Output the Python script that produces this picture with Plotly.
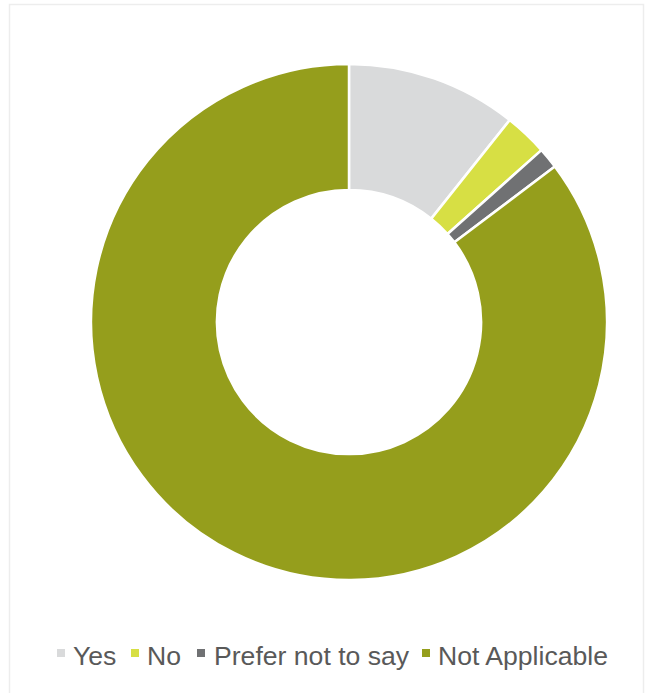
import plotly.graph_objects as go

labels = ["Yes", "No", "Prefer not to say", "Not Applicable"]
values = [10.7, 2.7, 1.3, 85.3]
colors = ["#D9DADB", "#D7DF44", "#707173", "#959E1C"]

W, H = 649, 693
cx, cy, R = 349, 322, 258

fig = go.Figure(
    go.Pie(
        labels=labels,
        values=values,
        hole=0.512,
        sort=False,
        direction="clockwise",
        rotation=0,
        marker=dict(colors=colors, line=dict(color="#FFFFFF", width=2.5)),
        textinfo="none",
        hoverinfo="label+percent",
        showlegend=False,
        domain=dict(x=[(cx - R) / W, (cx + R) / W], y=[1 - (cy + R) / H, 1 - (cy - R) / H]),
    )
)

# Legend row drawn as square swatches plus text, laid out in pixels
legend_font = dict(family="Liberation Sans, Arial, sans-serif", size=26.6, color="#595959")
swatch_x = [57, 131, 197, 422]     # left edge of each swatch (px)
text_x = [71, 145, 212, 436]       # left edge of each label (px)
swatch_size = 8
legend_mid = 653                   # vertical centre of the row (px from top)

shapes = [
    dict(
        type="rect", xref="paper", yref="paper",
        x0=9.5 / W, x1=643.5 / W, y0=-0.01, y1=1 - 4.5 / H,
        line=dict(color="#EDEDED", width=1.5), fillcolor="rgba(0,0,0,0)",
    )
]
annotations = []
for lab, col, sx, tx in zip(labels, colors, swatch_x, text_x):
    shapes.append(
        dict(
            type="rect", xref="paper", yref="paper",
            x0=sx / W, x1=(sx + swatch_size) / W,
            y0=1 - (legend_mid + swatch_size / 2) / H,
            y1=1 - (legend_mid - swatch_size / 2) / H,
            line=dict(width=0), fillcolor=col,
        )
    )
    annotations.append(
        dict(
            text=lab, xref="paper", yref="paper",
            x=tx / W, y=1 - (legend_mid + 3) / H,
            xanchor="left", yanchor="middle",
            showarrow=False, font=legend_font,
        )
    )

fig.update_layout(
    width=W,
    height=H,
    margin=dict(l=0, r=0, t=0, b=0),
    paper_bgcolor="#FFFFFF",
    plot_bgcolor="#FFFFFF",
    showlegend=False,
    shapes=shapes,
    annotations=annotations,
)

fig.write_html("out.html")
